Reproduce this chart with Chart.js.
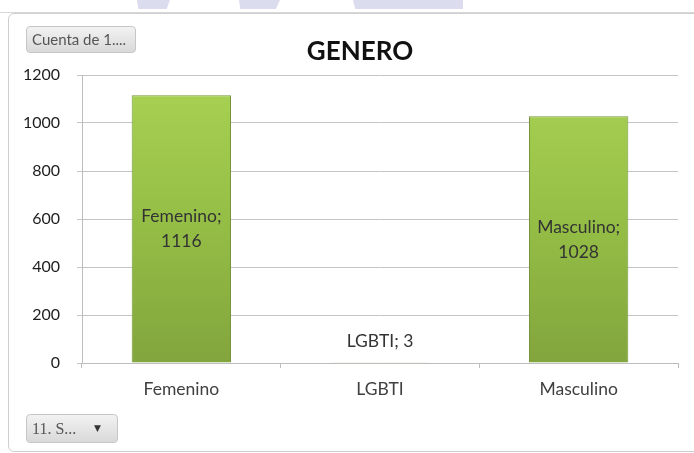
<!DOCTYPE html>
<html>
<head>
<meta charset="utf-8">
<script src="https://cdn.jsdelivr.net/npm/chart.js@4.4.1/dist/chart.umd.min.js"></script>
<style>
  html, body { margin: 0; padding: 0; background: #fff; }
  #wrap { position: relative; width: 694px; height: 453px; overflow: hidden; font-family: Lato, "Open Sans", sans-serif; }
  #chart { position: absolute; left: 0; top: 0; }
  .frame { position: absolute; left: 8px; top: 13px; width: 690px; height: 439px; border: 1px solid #cfcfcf;
    border-radius: 6px 0 0 6px; box-sizing: border-box; }
  .topline { position: absolute; left: 0; top: 12px; width: 694px; height: 1px; background: #d8d8d8; }
  .shape { position: absolute; top: 0; height: 9px; background: #dcdcef; }
  .btn { position: absolute; box-sizing: border-box; border: 1px solid #c6c6c6; border-radius: 4px;
    background: linear-gradient(#f2f2f2, #d9d9d9); color: #555; white-space: nowrap; }
  #field { left: 26px; top: 26px; width: 110px; height: 27px; font-size: 15px; line-height: 25px; padding-left: 5px; }
  #filter { left: 26px; top: 414px; width: 92px; height: 29px; font-size: 16px; line-height: 27px; padding-left: 5px;
    font-family: "Liberation Serif", serif; }
  #filter .arrow { position: absolute; left: 67px; top: 0; font-size: 9px; color: #333; font-family: "DejaVu Sans", sans-serif; }
</style>
</head>
<body>
<div id="wrap">
  <div class="shape" style="left:137px;width:33px;clip-path:polygon(0 0,100% 0,90% 100%,4% 100%)"></div>
  <div class="shape" style="left:239px;width:41px;clip-path:polygon(0 0,100% 0,90% 100%,3% 100%)"></div>
  <div class="shape" style="left:353px;width:110px;clip-path:polygon(0 0,100% 0,100% 100%,2% 100%)"></div>
  <div class="topline"></div>
  <div class="frame"></div>
  <canvas id="chart" width="694" height="453"></canvas>
  <div class="btn" id="field">Cuenta de 1....</div>
  <div class="btn" id="filter">11. S...<span class="arrow">▼</span></div>
</div>
<script>
const TITLE = "GENERO";
const categories = ["Femenino", "LGBTI", "Masculino"];
const counts = [1116, 3, 1028];
const yTicks = [0, 200, 400, 600, 800, 1000, 1200];

const FONT = "Lato, 'Open Sans', sans-serif";

function barFill(context) {
  const chart = context.chart;
  const area = chart.chartArea;
  if (!area) return "#95bf47";
  const g = chart.ctx.createLinearGradient(0, area.top, 0, area.bottom);
  g.addColorStop(0, "#a9d353");
  g.addColorStop(0.55, "#93bc45");
  g.addColorStop(1, "#82a53d");
  return g;
}

// title drawn by hand so it sits where Excel put it, plus "Category; value" labels
const barLabels = {
  id: "barLabels",
  afterDatasetsDraw(chart) {
    const ctx = chart.ctx;
    const meta = chart.getDatasetMeta(0);
    ctx.save();
    ctx.textAlign = "center";
    ctx.textBaseline = "middle";

    ctx.font = "bold 26px " + FONT;
    ctx.fillStyle = "#111";
    ctx.fillText(TITLE, 360, 52);

    ctx.font = "17.5px " + FONT;
    ctx.fillStyle = "#333";
    meta.data.forEach((bar, i) => {
      const h = bar.base - bar.y;
      if (h > 60) {
        const mid = (bar.y + bar.base) / 2;
        ctx.fillText(categories[i] + ";", bar.x, mid - 12);
        ctx.fillText(String(counts[i]), bar.x, mid + 13);
      } else {
        ctx.fillText(categories[i] + "; " + counts[i], bar.x, bar.y - 21);
      }
    });
    ctx.restore();
  }
};

new Chart(document.getElementById("chart"), {
  type: "bar",
  data: {
    labels: categories,
    datasets: [{
      data: counts,
      backgroundColor: barFill,
      borderColor: "#76953a",
      borderWidth: 1,
      barPercentage: 0.5,
      categoryPercentage: 1
    }]
  },
  options: {
    responsive: false,
    animation: false,
    layout: { padding: { left: 18, right: 16, top: 75, bottom: 42 } },
    plugins: {
      legend: { display: false },
      tooltip: { enabled: false },
      title: { display: false }
    },
    scales: {
      x: {
        grid: { display: true, drawOnChartArea: false, drawTicks: true, tickLength: 5, color: "#bdbdbd", offset: true },
        border: { color: "#bdbdbd" },
        ticks: { color: "#404040", font: { family: FONT, size: 17.5 }, padding: 11 }
      },
      y: {
        min: 0,
        max: 1200,
        afterBuildTicks(scale) {
          scale.ticks = yTicks.map((v) => ({ value: v }));
        },
        afterFit(scale) {
          scale.width = 64;
        },
        grid: { color: "#c4c4c4", tickLength: 5 },
        border: { color: "#bdbdbd" },
        ticks: {
          color: "#1e1e1e",
          font: { family: FONT, size: 16 },
          padding: 17,
          callback: (v) => String(v)
        }
      }
    }
  },
  plugins: [barLabels]
});
</script>
</body>
</html>
